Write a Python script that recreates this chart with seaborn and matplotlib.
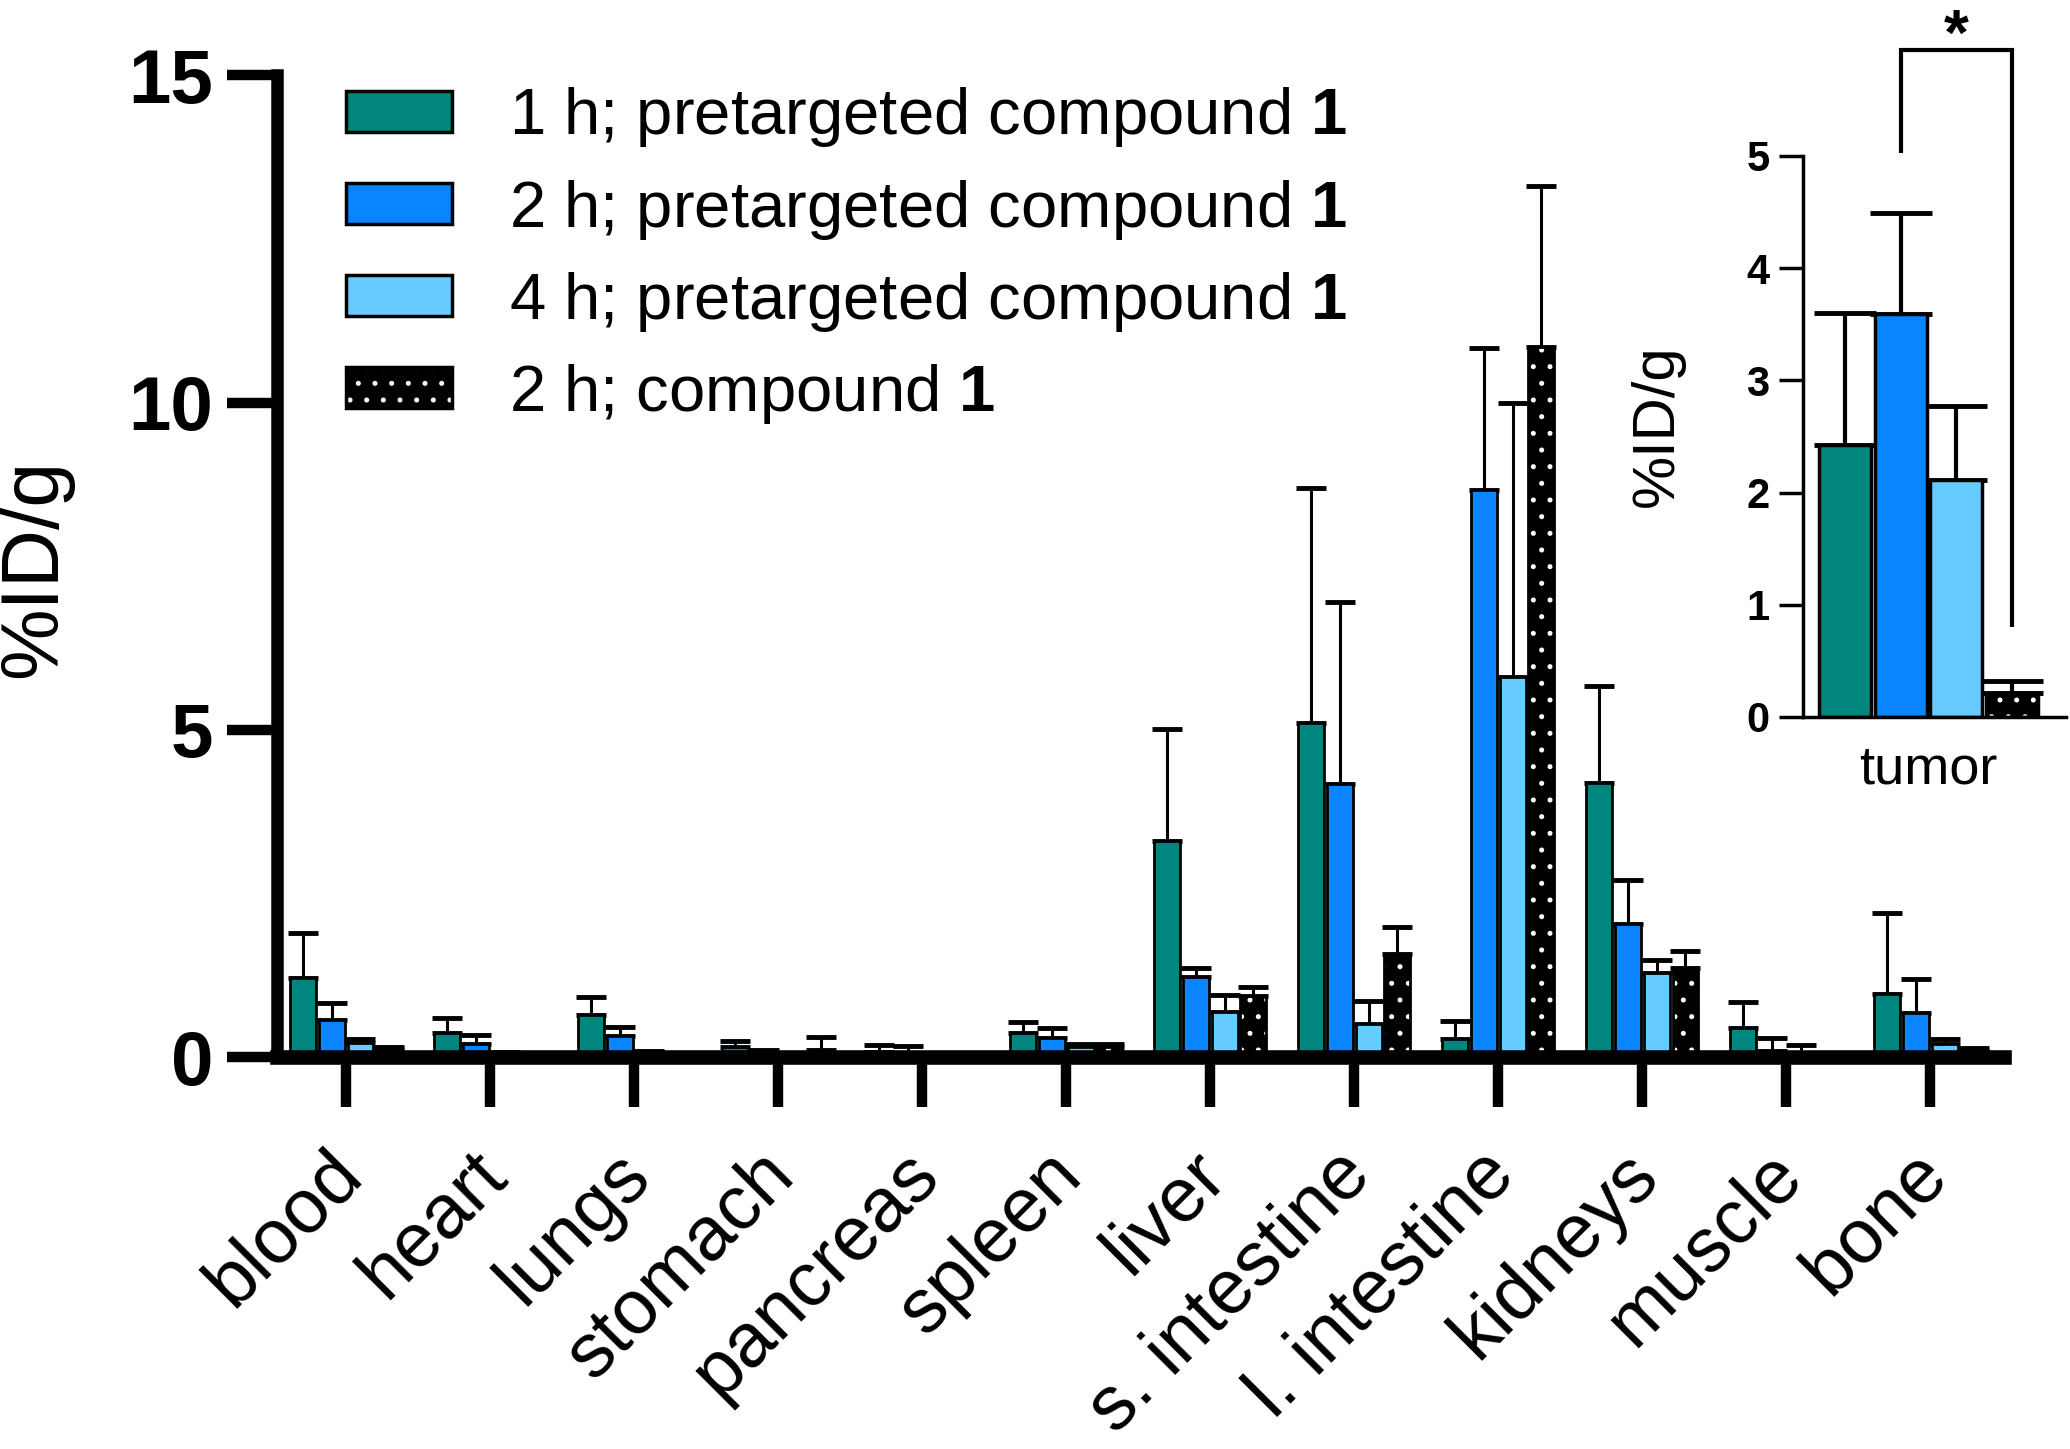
import numpy as np
import pandas as pd
import seaborn as sns
import matplotlib
matplotlib.use("Agg")
import matplotlib.pyplot as plt
import matplotlib.patches as mpatches
import matplotlib.colors as mcolors
import matplotlib.transforms as mtransforms

# ---------------- data ----------------
organs = ["blood", "heart", "lungs", "stomach", "pancreas", "spleen", "liver",
          "s. intestine", "l. intestine", "kidneys", "muscle", "bone"]
groups = ["1 h; pretargeted compound 1", "2 h; pretargeted compound 1",
          "4 h; pretargeted compound 1", "2 h; compound 1"]
legend_labels = [r"1 h; pretargeted compound $\mathbf{1}$",
                 r"2 h; pretargeted compound $\mathbf{1}$",
                 r"4 h; pretargeted compound $\mathbf{1}$",
                 r"2 h; compound $\mathbf{1}$"]

mean_1h = [1.21, 0.37, 0.64, 0.16, 0.08, 0.36, 3.30, 5.11, 0.27, 4.19, 0.44, 0.96]
sd_1h   = [0.68, 0.22, 0.27, 0.08, 0.10, 0.18, 1.71, 3.58, 0.28, 1.48, 0.40, 1.24]
mean_2h = [0.56, 0.20, 0.32, 0.08, 0.05, 0.29, 1.23, 4.17, 8.67, 2.04, 0.09, 0.67]
sd_2h   = [0.26, 0.14, 0.14, 0.03, 0.12, 0.16, 0.13, 2.78, 2.16, 0.67, 0.20, 0.53]
mean_4h = [0.21, 0.05, 0.07, 0.02, 0.02, 0.15, 0.69, 0.51, 5.80, 1.29, 0.05, 0.20]
sd_4h   = [0.07, 0.03, 0.02, 0.01, 0.01, 0.05, 0.26, 0.35, 4.20, 0.20, 0.13, 0.08]
mean_c1 = [0.12, 0.02, 0.05, 0.11, 0.01, 0.15, 0.93, 1.57, 10.85, 1.36, 0.01, 0.10]
sd_c1   = [0.03, 0.01, 0.01, 0.19, 0.01, 0.05, 0.14, 0.41, 2.46, 0.26, 0.01, 0.04]

tumor_mean = [2.42, 3.59, 2.11, 0.21]
tumor_sd = [1.18, 0.90, 0.66, 0.11]

colors = ["#00857F", "#0A84FF", "#66CCFF", "#000000"]

# ---------------- style ----------------
sns.set_theme(style="ticks")
plt.rcParams["font.family"] = ["Liberation Sans", "DejaVu Sans"]
plt.rcParams["mathtext.fontset"] = "custom"
plt.rcParams["mathtext.rm"] = "Liberation Sans"
plt.rcParams["mathtext.bf"] = "Liberation Sans:bold"
plt.rcParams["hatch.linewidth"] = 1.2
for k in ["text.color", "axes.labelcolor", "xtick.color", "ytick.color",
          "axes.edgecolor"]:
    plt.rcParams[k] = "black"


def white_hatch(p):
    try:
        p.set_hatchcolor("white")
    except AttributeError:
        p._hatch_color = mcolors.to_rgba("white")


means = [mean_1h, mean_2h, mean_4h, mean_c1]
sds = [sd_1h, sd_2h, sd_4h, sd_c1]
df = pd.DataFrame({
    "organ": np.tile(organs, 4),
    "group": np.repeat(groups, len(organs)),
    "value": np.concatenate(means),
})

fig = plt.figure(figsize=(20.7, 14.49), dpi=100)
ax = fig.add_axes([0.1338, 0.2705, 0.8342, 0.6775])

sns.barplot(data=df, x="organ", y="value", hue="group", order=organs,
            hue_order=groups, palette=colors, saturation=1, edgecolor="black",
            linewidth=2.0, errorbar=None, width=0.8, gap=0.1, ax=ax, legend=False)

bar_conts = list(ax.containers)
for i, cont in enumerate(bar_conts):
    xs, ys = [], []
    for p in cont.patches:
        xs.append(p.get_x() + p.get_width() / 2)
        ys.append(p.get_height())
        if i == 3:
            p.set_hatch(".")
            white_hatch(p)
    ax.errorbar(xs, ys, yerr=[np.zeros(len(ys)), sds[i]], fmt="none",
                ecolor="black", elinewidth=2.2, capsize=11, capthick=3.5,
                zorder=0.9)

ax.set_xlim(-0.48, 11.51)
ax.set_ylim(0, 15)
ax.set_yticks([0, 5, 10, 15])
ax.set_xticks(range(len(organs)))
ax.set_xticklabels(organs, rotation=45, ha="right", rotation_mode="anchor",
                   fontsize=55)
ax.tick_params(axis="both", direction="out", length=36, width=7.5, color="black")
ax.tick_params(axis="x", pad=14)
ax.tick_params(axis="y", labelsize=55, pad=10)
for lab in ax.get_yticklabels():
    lab.set_fontweight("bold")
offset = mtransforms.ScaledTranslation(-14.4 / 72, -8.6 / 72, fig.dpi_scale_trans)
for lab in ax.get_xticklabels():
    lab.set_transform(lab.get_transform() + offset)
for s in ["top", "right"]:
    ax.spines[s].set_visible(False)
ax.spines["left"].set_linewidth(9)
ax.spines["bottom"].set_linewidth(10.5)

ax.set_xlabel("")
ax.set_ylabel("%ID/g", fontsize=58)
ax.yaxis.set_label_coords(-0.118, 0.498)

handles = []
for i, c in enumerate(colors):
    h = mpatches.Patch(facecolor=c, edgecolor="black", linewidth=2.5)
    if i == 3:
        h.set_hatch(".")
        white_hatch(h)
    handles.append(h)
ax.legend(handles, legend_labels, loc="upper left", bbox_to_anchor=(0.167, 0.941),
          bbox_transform=fig.transFigure, frameon=False, fontsize=47,
          handlelength=1.63, handleheight=0.6, handletextpad=0.87,
          labelspacing=0.43, borderpad=0, borderaxespad=0)

# ---------------- inset ----------------
dft = pd.DataFrame({"organ": ["tumor"] * 4, "group": groups, "value": tumor_mean})
axi = fig.add_axes([0.871, 0.5052, 0.127, 0.3872])
sns.barplot(data=dft, x="organ", y="value", hue="group", hue_order=groups,
            palette=colors, saturation=1, edgecolor="black", linewidth=2.5,
            errorbar=None, width=0.8, gap=0.06, ax=axi, legend=False)
centers = []
inset_conts = list(axi.containers)
for i, cont in enumerate(inset_conts):
    for p in cont.patches:
        cx = p.get_x() + p.get_width() / 2
        centers.append(cx)
        if i == 3:
            p.set_hatch(".")
            white_hatch(p)
        axi.errorbar([cx], [p.get_height()], yerr=[[0], [tumor_sd[i]]],
                     fmt="none", ecolor="black", elinewidth=3, capsize=22,
                     capthick=3.5, zorder=0.9)
axi.set_xlim(-0.452, 0.495)
axi.set_ylim(0, 5)
axi.set_yticks(range(6))
axi.tick_params(axis="y", direction="out", length=17, width=2.5, labelsize=30, pad=7)
axi.tick_params(axis="x", length=0, labelsize=39, pad=20)
for lab in axi.get_yticklabels():
    lab.set_fontweight("bold")
for s in ["top", "right"]:
    axi.spines[s].set_visible(False)
for s in ["left", "bottom"]:
    axi.spines[s].set_linewidth(2.5)
axi.set_xlabel("")
axi.set_ylabel("%ID/g", fontsize=43)
axi.yaxis.set_label_coords(-0.45, 0.52)

# significance bracket
xb, xk = centers[1], centers[3]
axi.plot([xb, xb, xk, xk], [5.03, 5.94, 5.94, 0.8], color="black", lw=3,
         clip_on=False, solid_capstyle="butt", solid_joinstyle="miter")
axi.text((xb + xk) / 2, 5.9, "*", ha="center", va="baseline", fontsize=46,
         fontweight="bold", clip_on=False)

fig.savefig("out.png", dpi=100)
